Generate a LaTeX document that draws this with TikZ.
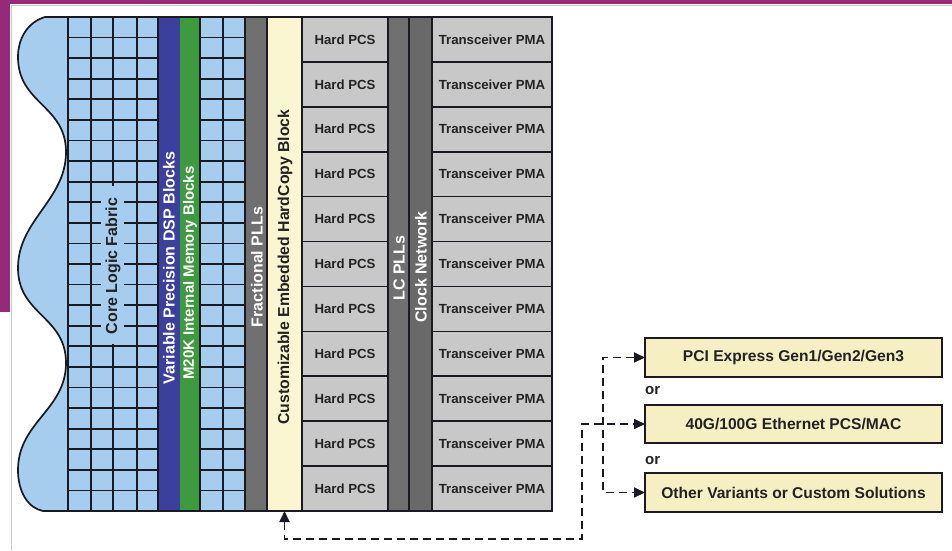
\documentclass[tikz,border=0pt]{standalone}
\usepackage{fontspec}
\setmainfont{Liberation Sans}
\usetikzlibrary{arrows.meta}
\definecolor{purp}{HTML}{962A78}
\definecolor{fabric}{HTML}{A7CDEE}
\definecolor{dsp}{HTML}{3B3F9E}
\definecolor{mem}{HTML}{3E9A3E}
\definecolor{pll}{HTML}{707070}
\definecolor{clk}{HTML}{696969}
\definecolor{hcy}{HTML}{FAF6D2}
\definecolor{pcs}{HTML}{C8C8C8}
\definecolor{opt}{HTML}{F7EFC4}
\definecolor{ink}{HTML}{1A1A22}
\definecolor{txt}{HTML}{222222}
\definecolor{framec}{HTML}{CFC8C8}
\begin{document}
\begin{tikzpicture}[x=1pt,y=-1pt,
  gridline/.style={draw=ink,line width=1.7pt},
  outline/.style={draw=ink,line width=1.7pt},
  vlabel/.style={rotate=90,font=\bfseries\fontsize{16}{18}\selectfont,inner sep=0pt},
  cell/.style={draw=ink,line width=1.7pt,fill=pcs,anchor=north west,minimum height=44.91pt,inner sep=0pt,outer sep=0pt,font=\bfseries\fontsize{13.2}{14}\selectfont,text=txt},
  optbox/.style={draw=ink,line width=1.9pt,fill=opt,anchor=north west,minimum width=297pt,inner sep=0pt,outer sep=0pt,font=\bfseries\fontsize{15.6}{18}\selectfont,text=txt},
  orlabel/.style={anchor=west,inner sep=0pt,font=\bfseries\fontsize{15}{18}\selectfont,text=txt},
  conn/.style={draw=ink,line width=1.9pt,dash pattern=on 8pt off 5pt,{Triangle[length=11pt,width=10pt]}-{Triangle[length=11pt,width=10pt]}}
]
\useasboundingbox (0,0) rectangle (952,550);
\fill[white] (0,0) rectangle (952,550);
% frame
\fill[purp] (0,0) rectangle (952,4);
\fill[purp] (0,0) rectangle (10,312);
\draw[framec,line width=1pt] (11,550) -- (11,5) -- (952,5);
% core fabric with wavy edge
\fill[fabric] (45,17) .. controls (28,22) and (18,38) .. (18,57)
  .. controls (18,104) and (66,105) .. (66,152)
  .. controls (66,200) and (18,220) .. (18,268)
  .. controls (18,315) and (66,316) .. (66,363)
  .. controls (66,410) and (18,422) .. (18,470)
  .. controls (18,492) and (28,508) .. (43,511)
  -- (245,511) -- (245,17) -- cycle;
\foreach \x in {68,91,113,137,158,180,200,223,245}
  \draw[gridline] (\x,17) -- (\x,511);
\foreach \j in {0,...,24}
  \draw[gridline] (68,{17+20.583*\j}) -- (245,{17+20.583*\j});
\fill[fabric] (101,186) rectangle (124,344);
\fill[dsp] (158,17) rectangle (180,511);
\fill[mem] (180,17) rectangle (200,511);
\draw[gridline] (158,17) -- (158,511);
\draw[gridline] (200,17) -- (200,511);
\draw[outline] (68,17) -- (45,17) .. controls (28,22) and (18,38) .. (18,57)
  .. controls (18,104) and (66,105) .. (66,152)
  .. controls (66,200) and (18,220) .. (18,268)
  .. controls (18,315) and (66,316) .. (66,363)
  .. controls (66,410) and (18,422) .. (18,470)
  .. controls (18,492) and (28,508) .. (43,511) -- (68,511);
\draw[outline] (68,17) -- (552,17);
\draw[outline] (68,511) -- (552,511);
\node[vlabel,text=txt] (corelbl) at (113,266) {Core Logic Fabric};
\node[vlabel,text=white] (dsplbl) at (169,268) {Variable Precision DSP Blocks};
\node[vlabel,text=white,font=\bfseries\fontsize{15}{18}\selectfont] (memlbl) at (190,273) {M20K Internal Memory Blocks};
% fractional PLLs
\node[outline,fill=pll,anchor=north west,minimum width=22pt,minimum height=494pt,inner sep=0pt,outer sep=0pt] (fpll) at (245,17) {};
\node[vlabel,text=white] (fpllbl) at (257,267) {Fractional PLLs};
% HardCopy block
\node[outline,fill=hcy,anchor=north west,minimum width=35pt,minimum height=494pt,inner sep=0pt,outer sep=0pt] (hc) at (267,17) {};
\node[vlabel,text=txt,font=\bfseries\fontsize{15.8}{18}\selectfont] (hclbl) at (285,267) {Customizable Embedded HardCopy Block};
% Hard PCS
\foreach \i in {0,...,10}
  \node[cell,minimum width=86pt] (pcs\i) at (302,{17+44.909*\i}) {Hard PCS};
% LC PLLs and clock network
\node[outline,fill=pll,anchor=north west,minimum width=21pt,minimum height=494pt,inner sep=0pt,outer sep=0pt] (lcpll) at (388,17) {};
\node[outline,fill=clk,anchor=north west,minimum width=23pt,minimum height=494pt,inner sep=0pt,outer sep=0pt] (clknet) at (409,17) {};
\node[vlabel,text=white] (lclbl) at (399,268) {LC PLLs};
\node[vlabel,text=white] (clklbl) at (421,267) {Clock Network};
% Transceiver PMA
\foreach \i in {0,...,10}
  \node[cell,minimum width=120pt] (pma\i) at (432,{17+44.909*\i}) {Transceiver PMA};
% option boxes
\node[optbox,minimum height=39pt] (pci) at (645,338) {PCI Express Gen1/Gen2/Gen3};
\node[optbox,minimum height=38pt] (eth) at (645,405) {40G/100G Ethernet PCS/MAC};
\node[optbox,minimum height=39pt] (oth) at (645,473) {Other Variants or Custom Solutions};
\node[orlabel] (or1) at (645,391) {or};
\node[orlabel] (or2) at (645,461) {or};
% connectors
\coordinate (b1) at (284.5,539);
\coordinate (b2) at (582,539);
\coordinate (v) at (603,0);
\draw[conn] (hc.south) -- (b1) -- (b2) |- (eth.west);
\draw[conn] (pci.west) -- (pci.west -| v) -- (oth.west -| v) -- (oth.west);
\end{tikzpicture}
\end{document}
